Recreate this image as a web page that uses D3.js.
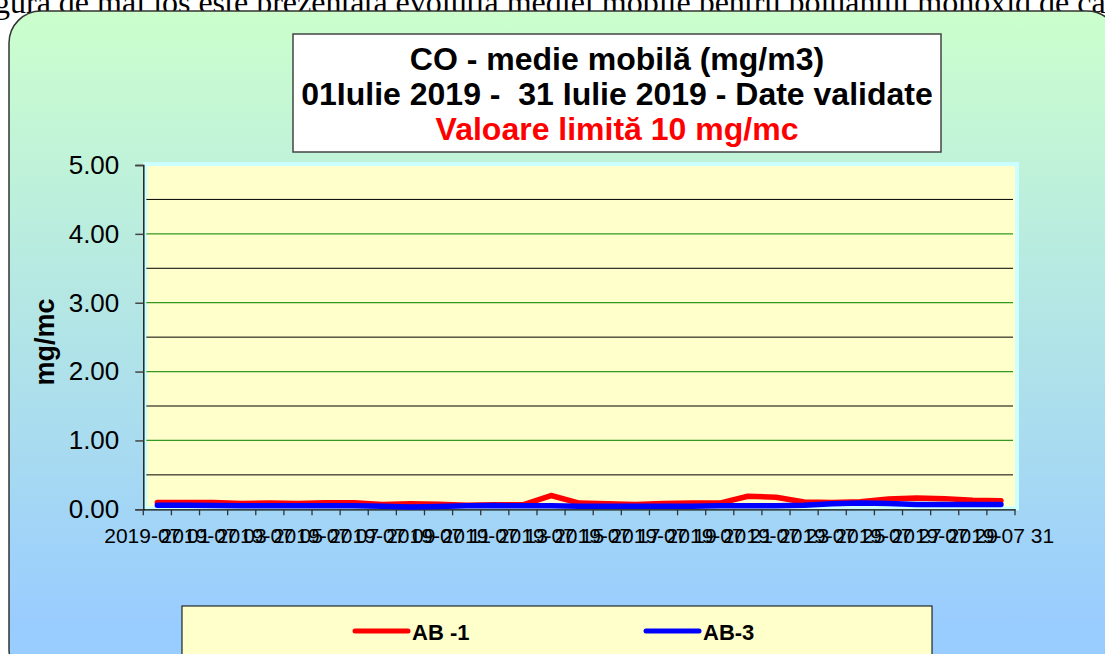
<!DOCTYPE html>
<html>
<head>
<meta charset="utf-8">
<script src="https://cdn.jsdelivr.net/npm/d3@7"></script>
<style>
  html, body { margin: 0; padding: 0; background: #ffffff; }
  svg { display: block; }
  text { font-family: "Liberation Sans", Arial, sans-serif; }
</style>
</head>
<body>
<svg id="chart" width="1105" height="654"></svg>
<script>
// ---------- data ----------
const days = d3.range(1, 32).map(d => "2019-07 " + String(d).padStart(2, "0"));
const seriesNames = ["AB -1", "AB-3"];
const seriesColors = ["#ff0000", "#0000ff"];
const ab1 = [0.10, 0.10, 0.10, 0.085, 0.09, 0.085, 0.095, 0.095, 0.07, 0.08,
             0.075, 0.06, 0.065, 0.065, 0.20, 0.09, 0.08, 0.07, 0.085, 0.09,
             0.09, 0.19, 0.175, 0.105, 0.10, 0.11, 0.15, 0.165, 0.155, 0.13, 0.125];
const ab3 = [0.058, 0.058, 0.055, 0.05, 0.05, 0.05, 0.05, 0.05, 0.045, 0.035,
             0.04, 0.05, 0.055, 0.05, 0.05, 0.045, 0.045, 0.045, 0.045, 0.045,
             0.05, 0.05, 0.05, 0.06, 0.08, 0.09, 0.085, 0.07, 0.07, 0.07, 0.07];
const yTicks = [0, 1, 2, 3, 4, 5];
const yMinor = [0.5, 1.5, 2.5, 3.5, 4.5];
const titleLines = ["CO - medie mobilă (mg/m3)",
                    "01Iulie 2019 -  31 Iulie 2019 - Date validate",
                    "Valoare limită 10 mg/mc"];
const yLabel = "mg/mc";
const topText = "gura de mai jos este prezentată evoluţia mediei mobile pentru poluantul monoxid de carbon";

// ---------- layout ----------
const svg = d3.select("#chart");
const X0 = 143.3, X1 = 1015, Y0 = 509.3, Y1 = 165;

const defs = svg.append("defs");
const grad = defs.append("linearGradient").attr("id", "bg")
  .attr("gradientUnits", "userSpaceOnUse")
  .attr("x1", 0).attr("y1", 11).attr("x2", 0).attr("y2", 630);
grad.append("stop").attr("offset", 0).attr("stop-color", "#ccffcc");
grad.append("stop").attr("offset", 1).attr("stop-color", "#99ccff");

// page text (cut off at top)
svg.append("text").attr("x", -6).attr("y", 13)
  .style("font-family", "'Liberation Serif', 'Times New Roman', serif")
  .style("font-size", "32px").attr("fill", "#000").text(topText);

// chart area
svg.append("rect").attr("x", 9).attr("y", 11).attr("width", 1110).attr("height", 670)
  .attr("rx", 32).attr("fill", "url(#bg)").attr("stroke", "#333").attr("stroke-width", 1.5);

// scales
const x = d3.scaleBand().domain(days).range([X0, X1]).paddingInner(0).paddingOuter(0);
const y = d3.scaleLinear().domain([0, 5]).range([Y0, Y1]);

// plot area
svg.append("rect").attr("x", X0 + 2).attr("y", Y1 - 1).attr("width", X1 - X0).attr("height", Y0 - Y1)
  .attr("fill", "#ffffcc").attr("stroke", "#ccffff").attr("stroke-width", 4);

// gridlines
svg.append("g").selectAll("line").data(yMinor).join("line")
  .attr("x1", X0 + 3).attr("x2", X1 - 2)
  .attr("y1", d => y(d)).attr("y2", d => y(d))
  .attr("stroke", "#000").attr("stroke-width", 1);
svg.append("g").selectAll("line").data(yTicks.filter(d => d > 0 && d < 5)).join("line")
  .attr("x1", X0 + 3).attr("x2", X1 - 2)
  .attr("y1", d => y(d)).attr("y2", d => y(d))
  .attr("stroke", "#339922").attr("stroke-width", 1.3);

// y axis
const yAxis = d3.axisLeft(y).tickValues(yTicks).tickFormat(d3.format(".2f")).tickSize(8).tickPadding(16);
const gy = svg.append("g").attr("transform", `translate(${X0},0)`).call(yAxis);
gy.select(".domain").attr("stroke", "#222").attr("stroke-width", 1.5);
gy.selectAll(".tick line").attr("stroke", "#444").attr("stroke-width", 1.5);
gy.selectAll(".tick text").style("font-size", "26px").attr("fill", "#000")
  .style("font-family", "'Liberation Sans', Arial, sans-serif");

// x axis
const xAxis = d3.axisBottom(x).tickSize(0).tickFormat("");
const gx = svg.append("g").attr("transform", `translate(0,${Y0})`).call(xAxis);
gx.select(".domain").attr("stroke", "#000").attr("stroke-width", 1.2);
// tick marks at band boundaries
const bounds = days.map(d => x(d)).concat([X1]);
gx.append("g").selectAll("line").data(bounds).join("line")
  .attr("x1", d => d).attr("x2", d => d).attr("y1", 0).attr("y2", 6)
  .attr("stroke", "#333").attr("stroke-width", 1.3);
// labels every other day
gx.append("g").selectAll("text").data(days.filter((d, i) => i % 2 === 0)).join("text")
  .attr("x", d => x(d) + x.bandwidth() / 2).attr("y", 34)
  .attr("text-anchor", "middle").style("font-size", "21px").attr("fill", "#000")
  .style("white-space", "pre").text(d => d);

// y label
svg.append("text").attr("transform", "translate(54,342) rotate(-90)")
  .attr("text-anchor", "middle").style("font-size", "27px").style("font-weight", "bold")
  .attr("fill", "#000").text(yLabel);

// lines
const line = d3.line().x((d, i) => x(days[i]) + x.bandwidth() / 2).y(d => y(d));
[ab1, ab3].forEach((s, k) => {
  svg.append("path").datum(s).attr("d", line).attr("fill", "none")
    .attr("stroke", seriesColors[k]).attr("stroke-width", 5.5)
    .attr("stroke-linejoin", "round").attr("stroke-linecap", "round");
});

// title box
svg.append("rect").attr("x", 293).attr("y", 34).attr("width", 648).attr("height", 118)
  .attr("fill", "#fff").attr("stroke", "#444").attr("stroke-width", 1.5);
svg.append("g").selectAll("text").data(titleLines).join("text")
  .attr("x", 617).attr("y", (d, i) => 70 + i * 35)
  .attr("text-anchor", "middle").style("font-size", "32px").style("font-weight", "bold")
  .style("white-space", "pre")
  .attr("fill", (d, i) => i === 2 ? "#ff0000" : "#000").text(d => d);

// legend
svg.append("rect").attr("x", 182).attr("y", 606).attr("width", 750).attr("height", 70)
  .attr("fill", "#ffffcc").attr("stroke", "#000").attr("stroke-width", 1);
const legX = [355, 646];
const leg = svg.append("g").selectAll("g").data(seriesNames).join("g")
  .attr("transform", (d, i) => `translate(${legX[i]},631)`);
leg.append("line").attr("x1", 0).attr("x2", 53).attr("y1", 0).attr("y2", 0)
  .attr("stroke", (d, i) => seriesColors[i]).attr("stroke-width", 5).attr("stroke-linecap", "round");
leg.append("text").attr("x", 57).attr("y", 9).style("font-size", "22px").style("font-weight", "bold")
  .attr("fill", "#000").text(d => d);
</script>
</body>
</html>
